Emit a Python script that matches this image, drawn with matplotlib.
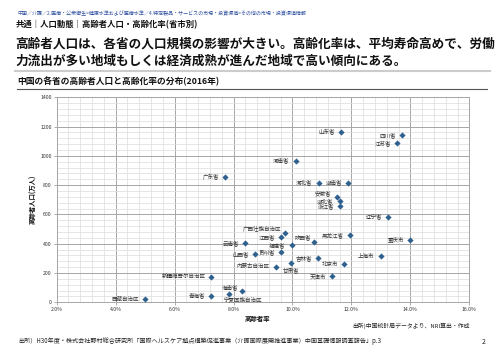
import matplotlib
matplotlib.use("Agg")
import matplotlib.pyplot as plt
from matplotlib.ticker import MultipleLocator, FuncFormatter

plt.rcParams['font.family'] = ['Noto Sans CJK JP', 'DejaVu Sans']

provinces = ["山东省", "四川省", "江苏省", "河南省", "河北省", "湖南省", "安徽省", "湖北省",
             "浙江省", "辽宁省", "黑龙江省", "重庆市", "上海市", "陕西省", "吉林省", "北京市",
             "天津市", "广西壮族自治区", "江西省", "福建省", "云南省", "山西省", "贵州省",
             "内蒙古自治区", "甘肃省", "新疆维吾尔自治区", "海南省", "宁夏回族自治区", "青海省",
             "西藏自治区", "广东省"]
aging_rate = [11.64, 13.73, 13.54, 10.11, 10.89, 11.88, 11.51, 11.60,
              11.61, 13.24, 11.94, 13.98, 12.99, 10.73, 10.88, 11.76,
              11.35, 9.74, 9.61, 9.98, 8.39, 8.74, 9.61,
              9.43, 9.95, 7.25, 8.29, 7.84, 7.25,
              4.99, 7.72]
elderly_pop = [1165, 1141, 1088, 967, 817, 817, 719, 690,
               658, 585, 458, 428, 316, 412, 300, 260,
               178, 475, 444, 391, 403, 330, 344,
               243, 266, 175, 77, 57, 45,
               20, 854]

# label placement (offset in pixels, horizontal alignment)
label_pos = {
    "广西壮族自治区": (-4, 4, 'right'),
    "甘肃省": (0, -7, 'center'),
    "宁夏回族自治区": (14, -6, 'center'),
    "海南省": (-4, 4, 'right'),
    "安徽省": (-6, 4, 'right'),
    "陕西省": (-3, 5, 'right'),
}

fig = plt.figure(figsize=(5, 3.53), dpi=100)
W, H = 500, 353

def fx(px):
    return px / W

def fy(py):
    return 1 - py / H

# header texts
fig.text(fx(17), fy(13),
         "中国／介護／2.医療・公衆衛生>健康水準および医療水準／4.特定製品・サービスの市場・投資環境>その他の市場・投資環境情報",
         fontsize=3.6, color='#2f4f9f', va='center', ha='left')
fig.text(fx(16), fy(25), "共通｜人口動態｜高齢者人口・高齢化率(省市別)",
         fontsize=6, fontweight='bold', color='#111111', va='center', ha='left')
fig.text(fx(15), fy(44), "高齢者人口は、各省の人口規模の影響が大きい。高齢化率は、平均寿命高めで、労働",
         fontsize=9.1, fontweight='bold', color='#111111', va='center', ha='left')
fig.text(fx(15), fy(61), "力流出が多い地域もしくは経済成熟が進んだ地域で高い傾向にある。",
         fontsize=9.1, fontweight='bold', color='#111111', va='center', ha='left')
fig.add_artist(plt.Line2D([fx(15), fx(490)], [fy(71), fy(71)], color='#cccccc', lw=1.5))
fig.text(fx(17), fy(81), "中国の各省の高齢者人口と高齢化率の分布(2016年)",
         fontsize=6.3, fontweight='bold', color='#111111', va='center', ha='left')
fig.add_artist(plt.Line2D([fx(17), fx(487)], [fy(88.5), fy(88.5)], color='#555555', lw=0.8))

ax = fig.add_axes([fx(56.7), fy(302.3), fx(469.3) - fx(56.7), fy(97.3) - fy(302.3)])
ax.set_xlim(2, 16)
ax.set_ylim(0, 1400)
ax.xaxis.set_major_locator(MultipleLocator(2))
ax.xaxis.set_minor_locator(MultipleLocator(0.4))
ax.yaxis.set_major_locator(MultipleLocator(200))
ax.yaxis.set_minor_locator(MultipleLocator(40))
ax.grid(which='minor', color='#dcdcdc', lw=0.5)
ax.grid(which='major', color='#a6a6a6', lw=0.7)
ax.set_axisbelow(True)
for s in ax.spines.values():
    s.set_color('#a6a6a6')
    s.set_linewidth(0.7)
ax.tick_params(which='major', length=2, width=0.5, color='#888888', labelsize=3.7,
               labelcolor='#333333', pad=1.5)
ax.tick_params(which='minor', length=0)
ax.xaxis.set_major_formatter(FuncFormatter(lambda v, p: f"{v:.1f}%"))
ax.yaxis.set_major_formatter(FuncFormatter(lambda v, p: f"{int(v)}"))

ax.scatter(aging_rate, elderly_pop, marker='D', s=10, color='#2e6090', zorder=3, linewidths=0)

for name, xv, yv in zip(provinces, aging_rate, elderly_pop):
    dx, dy, ha = label_pos.get(name, (-6, 0, 'right'))
    ax.annotate(name, (xv, yv), xytext=(dx, dy), textcoords='offset pixels',
                fontsize=4, color='#333333', ha=ha, va='center', zorder=4)

fig.text(fx(257), fy(319), "高齢者率", fontsize=4.6, fontweight='bold', color='#111111',
         ha='center', va='center')
fig.text(fx(33), fy(199), "高齢者人口(万人)", fontsize=4.6, fontweight='bold', color='#111111',
         ha='center', va='center', rotation=90)

fig.text(fx(352), fy(326), "出所)中国統計局データより、NRI算出・作成", fontsize=4.2,
         color='#222222', ha='left', va='center')
fig.text(fx(18), fy(341),
         "出所）H30年度・株式会社野村総合研究所「国際ヘルスケア拠点構築促進事業（介護国際展開推進事業）中国基礎情報調査報告」p.3",
         fontsize=4.4, color='#222222', ha='left', va='center')
fig.text(fx(484), fy(342), "2", fontsize=5, color='#222222', ha='center', va='center')

fig.savefig("out.png", dpi=100)
